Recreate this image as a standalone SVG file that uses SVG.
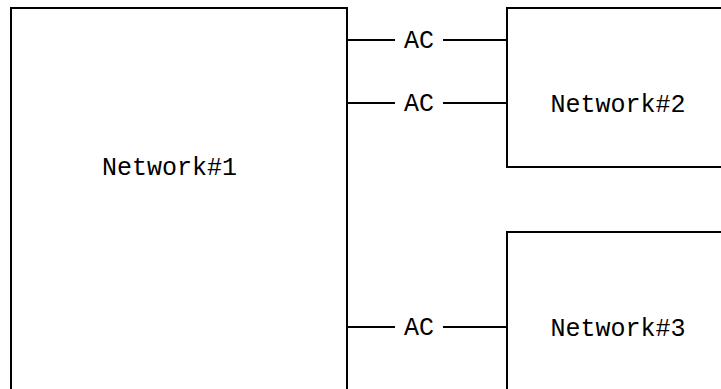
<svg xmlns="http://www.w3.org/2000/svg" width="721" height="389" viewBox="0 0 721 389">
<style>
.box{fill:#fff;stroke:#000;stroke-width:2}
.lbl{font-family:"Liberation Mono","DejaVu Sans Mono",monospace;font-size:25px;fill:#000;text-anchor:middle}
.ac{font-family:"Liberation Mono","DejaVu Sans Mono",monospace;font-size:25px;fill:#000;text-anchor:middle}
.wire{stroke:#000;stroke-width:2;fill:none}
</style>
<rect width="721" height="389" fill="#fff"/>
<g id="network1"><rect class="box" x="11" y="8" width="336" height="400"/><text class="lbl" x="169.5" y="175">Network#1</text></g>
<g id="network2"><rect class="box" x="507" y="8" width="240" height="159"/><text class="lbl" x="618" y="112">Network#2</text></g>
<g id="network3"><rect class="box" x="507" y="232" width="240" height="180"/><text class="lbl" x="618" y="336">Network#3</text></g>
<g id="connectors">
<path class="wire" d="M347 40H395M443 40H507"/><text class="ac" x="419" y="48">AC</text>
<path class="wire" d="M347 103H395M443 103H507"/><text class="ac" x="419" y="111">AC</text>
<path class="wire" d="M347 327H395M443 327H507"/><text class="ac" x="419" y="335">AC</text>
</g>
</svg>
